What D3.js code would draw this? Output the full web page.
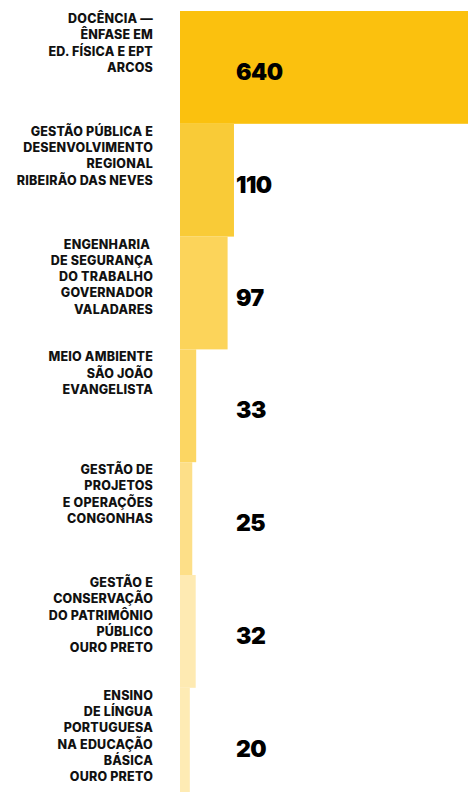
<!DOCTYPE html>
<html>
<head>
<meta charset="utf-8">
<script src="https://cdn.jsdelivr.net/npm/d3@7"></script>
<style>
  html, body { margin: 0; padding: 0; background: #fff; overflow: hidden; }
  .label { font-family: Inter, Roboto, "Liberation Sans", sans-serif; font-weight: 800; font-size: 12.5px; fill: #111; letter-spacing: 0.2px; }
  .value { font-family: Inter, Lato, sans-serif; font-weight: 900; font-size: 23px; fill: #000; letter-spacing: -0.5px; }
</style>
</head>
<body>
<svg id="chart"></svg>
<script>
var WIDTH = 468, HEIGHT = 792;

// Data
var courses = [
    ["DOCÊNCIA —", "ÊNFASE EM", "ED. FÍSICA E EPT", "ARCOS"],
    ["GESTÃO PÚBLICA E", "DESENVOLVIMENTO", "REGIONAL", "RIBEIRÃO DAS NEVES"],
    ["ENGENHARIA ", "DE SEGURANÇA", "DO TRABALHO", "GOVERNADOR", "VALADARES"],
    ["MEIO AMBIENTE", "SÃO JOÃO", "EVANGELISTA"],
    ["GESTÃO DE", "PROJETOS", "E OPERAÇÕES", "CONGONHAS"],
    ["GESTÃO E", "CONSERVAÇÃO", "DO PATRIMÔNIO", "PÚBLICO", "OURO PRETO"],
    ["ENSINO", "DE LÍNGUA", "PORTUGUESA", "NA EDUCAÇÃO", "BÁSICA", "OURO PRETO"]
];
var values = [640, 110, 97, 33, 25, 32, 20];
var colors = ["#fbc10e", "#f9cb37", "#fcd45a", "#fcd662", "#fddf88", "#feeab2", "#feebb4"];

// Layout
var BAR_X = 180, TOP = 11, BAND = 112.8;
var LABEL_X = 153, VALUE_X = 236, LINE_H = 16.3;

var svg = d3.select("#chart")
    .attr("width", WIDTH)
    .attr("height", HEIGHT);

var idx = d3.range(values.length);

var y = d3.scaleBand()
    .domain(idx)
    .range([TOP, TOP + BAND * values.length])
    .paddingInner(0);

var x = d3.scaleLinear()
    .domain([0, 640])
    .range([0, 314]);

var rows = svg.selectAll("g.row")
    .data(idx)
    .enter().append("g")
    .attr("class", "row")
    .attr("transform", function(i) { return "translate(0," + y(i) + ")"; });

rows.append("rect")
    .attr("x", BAR_X)
    .attr("y", 0)
    .attr("width", function(i) { return x(values[i]); })
    .attr("height", y.bandwidth())
    .attr("fill", function(i) { return colors[i]; });

rows.append("text")
    .attr("class", "label")
    .attr("text-anchor", "end")
    .attr("xml:space", "preserve")
    .selectAll("tspan")
    .data(function(i) { return courses[i]; })
    .enter().append("tspan")
    .attr("x", LABEL_X)
    .attr("y", function(d, j) { return 12 + j * LINE_H; })
    .text(function(d) { return d; });

rows.append("text")
    .attr("class", "value")
    .attr("x", VALUE_X)
    .attr("y", 69)
    .text(function(i) { return values[i]; });
</script>
</body>
</html>
